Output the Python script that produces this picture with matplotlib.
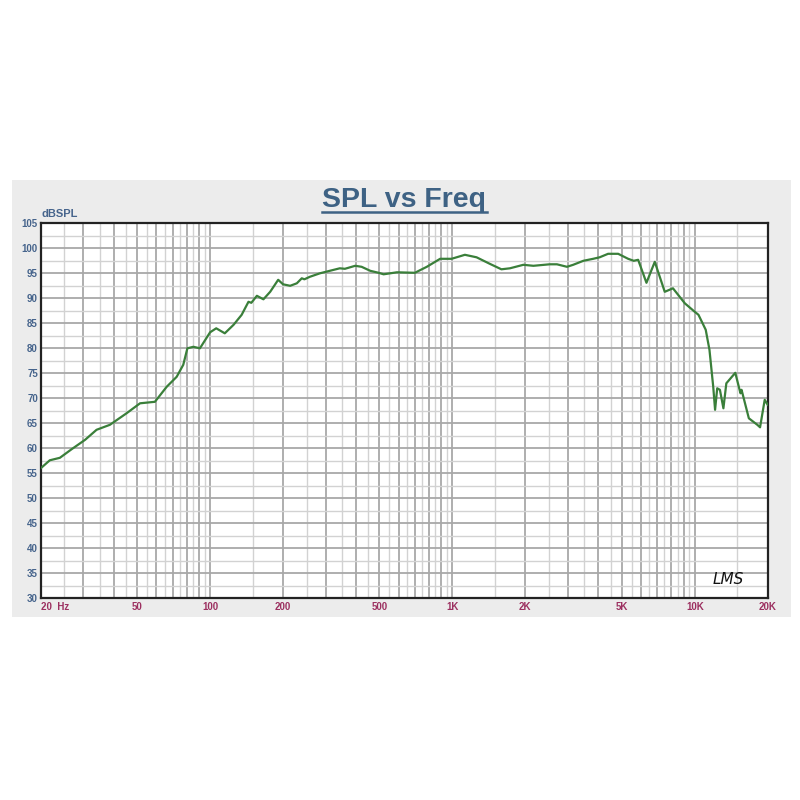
import numpy as np
import matplotlib
matplotlib.use("Agg")
import matplotlib.pyplot as plt
from matplotlib.patches import Rectangle
from matplotlib.lines import Line2D

freq = [20, 21.8, 24, 26.8, 30.5, 34, 38.6, 45.2, 51.4, 59.2, 66.2, 72.8, 77.5,
        80.6, 85.3, 90.8, 100, 106, 115, 125, 135, 144, 148, 156, 166, 177, 191,
        200, 214, 228, 239, 245, 258, 284, 312, 343, 360, 397, 422, 458, 496, 520,
        590, 700, 784, 890, 992, 1126, 1258, 1426, 1593, 1727, 1962, 2158, 2520,
        2700, 2970, 3150, 3470, 3810, 4050, 4390, 4830, 5310, 5600, 5840, 6320,
        6840, 7520, 8130, 9100, 10000, 10360, 11100, 11500, 11920, 12130, 12380,
        12700, 13130, 13500, 14700, 15440, 15600, 16720, 18120, 18600, 19440, 20000]
spl = [56.0, 57.6, 58.1, 59.8, 61.7, 63.7, 64.7, 67.0, 69.0, 69.3, 72.3, 74.3, 76.7,
       80.0, 80.3, 80.0, 83.2, 84.0, 83.0, 84.7, 86.7, 89.3, 89.1, 90.5, 89.8, 91.3, 93.7,
       92.8, 92.5, 93.0, 94.0, 93.8, 94.3, 95.0, 95.5, 96.0, 95.9, 96.5, 96.3, 95.5, 95.1, 94.8,
       95.2, 95.1, 96.3, 97.9, 97.9, 98.7, 98.2, 96.9, 95.8, 96.0, 96.7, 96.5, 96.8,
       96.8, 96.3, 96.7, 97.5, 97.9, 98.2, 98.9, 98.9, 97.9, 97.5, 97.7, 93.1,
       97.3, 91.3, 92.0, 89.0, 87.3, 86.7, 83.7, 79.7, 72.3, 67.7, 72.0,
       71.7, 68.0, 73.0, 75.1, 71.0, 71.7, 66.0, 64.7, 64.2, 69.7, 68.7]

y_ticks = list(range(30, 106, 5))
x_ticks = [20, 50, 100, 200, 500, 1000, 2000, 5000, 10000, 20000]
x_labels = ["20  Hz", "50", "100", "200", "500", "1K", "2K", "5K", "10K", "20K"]

fig = plt.figure(figsize=(8, 8), dpi=100)
fig.patch.set_facecolor("white")
fig.patches.append(Rectangle((12/800, 1-616.7/800), (790.7-12)/800, (616.7-180)/800,
                             transform=fig.transFigure, facecolor="#ececec",
                             edgecolor="none", zorder=-5))

ax = fig.add_axes([40.7/800, 1-598.3/800, 727/800, 375/800])
ax.set_zorder(2)
ax.set_facecolor("white")
ax.set_xscale("log")
ax.set_xlim(20, 20000)
ax.set_ylim(30, 105)

# grid
for d in [10, 100, 1000, 10000]:
    for m in np.arange(1, 10, 0.5):
        f = m * d
        if 20 < f < 20000:
            major = float(m).is_integer()
            ax.axvline(f, color="#a8a8a8" if major else "#d2d2d2",
                       lw=1.3 if major else 1.0, zorder=1)
for v in np.arange(30, 105.1, 2.5):
    if 30 < v < 105:
        major = v % 5 == 0
        ax.axhline(v, color="#a8a8a8" if major else "#d2d2d2",
                   lw=1.3 if major else 1.0, zorder=1)

ax.plot(freq, spl, color="#3a7f3a", lw=1.6, zorder=3)

for s in ax.spines.values():
    s.set_color("#222222")
    s.set_linewidth(1.6)

ax.set_yticks(y_ticks)
ax.set_yticklabels([str(v) for v in y_ticks])
ax.set_xticks(x_ticks)
ax.set_xticklabels(x_labels)
ax.minorticks_off()
ax.tick_params(axis="both", length=0)
ax.tick_params(axis="y", pad=2, labelsize=7, labelcolor="#46648c")
ax.tick_params(axis="x", pad=3, labelsize=7, labelcolor="#9c3060")
for lab in ax.get_yticklabels():
    lab.set_fontweight("bold")
    lab.set_family("Liberation Sans")
for i, lab in enumerate(ax.get_xticklabels()):
    lab.set_fontweight("bold")
    lab.set_family("Liberation Sans")
    if i == 0:
        lab.set_ha("left")

fig.text(41/800, 1-217/800, "dBSPL", fontsize=8, fontweight="bold", color="#46648c",
         family="Liberation Sans", ha="left", va="baseline")

fig.text(404.5/800, 1-207/800, "SPL vs Freq", fontsize=20.5, fontweight="bold",
         color="#3e6284", family="Liberation Sans", ha="center", va="baseline")
fig.add_artist(Line2D([322/800, 487/800], [1-211.5/800, 1-211.5/800],
                      transform=fig.transFigure, color="#3e6284", lw=1.8))

ax.text(0.946, 0.03, "LMS", transform=ax.transAxes, fontsize=11,
        fontstyle="italic", color="#111111", family="DejaVu Sans",
        ha="center", va="bottom", zorder=4)

fig.savefig("out.png", dpi=100, facecolor="white")
